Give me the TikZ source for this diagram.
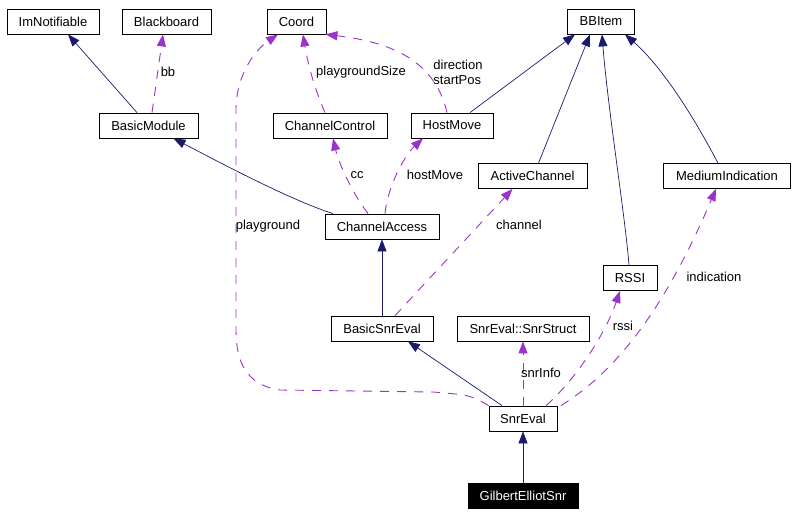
\documentclass[tikz,border=0pt]{standalone}
\usepackage{fontspec}
\setmainfont{Liberation Sans}
\usepackage{xcolor}
\usepackage{tikz}
\usetikzlibrary{arrows.meta, calc}
\definecolor{edgeblue}{RGB}{25,25,112}
\definecolor{edgepurple}{RGB}{154,50,205}
\tikzset{
  cls/.style={
    draw,
    line width=0.8pt,
    fill=white,
    align=center,
    minimum height=25pt,
    inner xsep=2pt,
    font=\fontsize{13}{15}\selectfont
  },
  focus/.style={cls, fill=black, text=white},
  lbl/.style={font=\fontsize{13}{15}\selectfont, align=left, inner sep=1pt},
  inherit/.style={-{Triangle[length=12pt,width=9pt]}, draw=edgeblue, line width=0.7pt},
  uses/.style={-{Triangle[length=12pt,width=9pt]}, draw=edgepurple, line width=0.9pt,
    dash pattern=on 9pt off 8pt}
}

\begin{document}
\begin{tikzpicture}[x=1pt, y=-1pt]
\useasboundingbox (0,0) rectangle (796,516);

% Top row
\node[cls, minimum width=92pt] (imnotifiable) at (53,21.5) {ImNotifiable};
\node[cls, minimum width=89pt] (blackboard) at (166.5,21.5) {Blackboard};
\node[cls, minimum width=59pt] (coord) at (296.5,21.5) {Coord};
\node[cls, minimum width=67pt] (bbitem) at (601,21.5) {BBItem};

% Second row
\node[cls, minimum width=99pt] (basicmod) at (148.5,125.5) {BasicModule};
\node[cls, minimum width=114pt] (chctrl) at (330,125.5) {ChannelControl};
\node[cls, minimum width=82pt] (hostmove) at (452,125.5) {HostMove};
\node[cls, minimum width=109pt] (activech) at (532.5,176) {ActiveChannel};
\node[cls, minimum width=127pt] (mediumind) at (727,176) {MediumIndication};

% Middle
\node[cls, minimum width=114pt] (chaccess) at (382,226.5) {ChannelAccess};
\node[cls, minimum width=54pt] (rssi) at (630,278) {RSSI};
\node[cls, minimum width=102pt] (basicsnr) at (382,328.5) {BasicSnrEval};
\node[cls, minimum width=132pt] (snrstruct) at (523,328.5) {SnrEval::SnrStruct};

% Bottom
\node[cls, minimum width=68pt] (snreval) at (523,418.5) {SnrEval};
\node[focus, minimum width=110pt] (gilbert) at (523,496) {GilbertElliotSnr};

% Inheritance
\draw[inherit] ([xshift=-11.5]basicmod.north) -- ([xshift=15]imnotifiable.south);
\draw[inherit] ([xshift=-49]chaccess.north) .. controls (290,200) and (215,160) .. ([xshift=25]basicmod.south);
\draw[inherit] ([xshift=18]hostmove.north) -- ([xshift=-26]bbitem.south);
\draw[inherit] ([xshift=6]activech.north) -- ([xshift=-11]bbitem.south);
\draw[inherit] ([xshift=-1]rssi.north) .. controls (625,215) and (608,110) .. ([xshift=1]bbitem.south);
\draw[inherit] ([xshift=-9]mediumind.north) .. controls (690,110) and (660,65) .. ([xshift=24]bbitem.south);
\draw[inherit] (basicsnr) -- (chaccess);
\draw[inherit] ([xshift=-21]snreval.north) -- ([xshift=26]basicsnr.south);
\draw[inherit] (gilbert) -- (snreval);

% Usage relations
\draw[uses] ([xshift=3.5]basicmod.north) -- ([xshift=-3.5]blackboard.south);
\node[lbl] (lbb) at (168,72) {bb};

\draw[uses] ([xshift=-5]chctrl.north) .. controls (315,90) and (308,65) .. ([xshift=6.5]coord.south);
\node[lbl] (lpgsize) at (361,72) {playgroundSize};

\draw[uses] ([xshift=-5]hostmove.north) .. controls (435,60) and (390,42) .. ([xshift=-1]coord.south east);
\node[lbl] (ldir) at (458,72.5) {direction\\startPos};

\draw[uses] ([xshift=-14]chaccess.north) .. controls (350,190) and (338,160) .. ([xshift=3]chctrl.south);
\node[lbl] (lcc) at (357,175) {cc};

\draw[uses] ([xshift=3]chaccess.north) .. controls (388,185) and (405,155) .. ([xshift=-29]hostmove.south);
\node[lbl] (lhost) at (435,175) {hostMove};

\draw[uses] ([xshift=13]basicsnr.north) -- ([xshift=-20]activech.south);
\node[lbl] (lchan) at (519,225) {channel};

\draw[uses] (snreval.north west) .. controls (470,395) .. (433,392) -- (280,390)
  .. controls (245,385) and (236,360) .. (236,330) -- (236,110)
  .. controls (236,75) and (255,50) .. ([xshift=-18.5]coord.south);
\node[lbl] (lpg) at (268,226) {playground};

\draw[uses] (snreval) -- (snrstruct);
\node[lbl] (lsnr) at (541,372.5) {snrInfo};

\draw[uses] ([xshift=23]snreval.north) .. controls (575,380) and (605,335) .. ([xshift=-10]rssi.south);
\node[lbl] (lrssi) at (623,326) {rssi};

\draw[uses] ([xshift=38]snreval.north) .. controls (610,375) and (660,320) .. ([xshift=-11]mediumind.south);
\node[lbl] (lind) at (714,276.5) {indication};

\end{tikzpicture}
\end{document}
